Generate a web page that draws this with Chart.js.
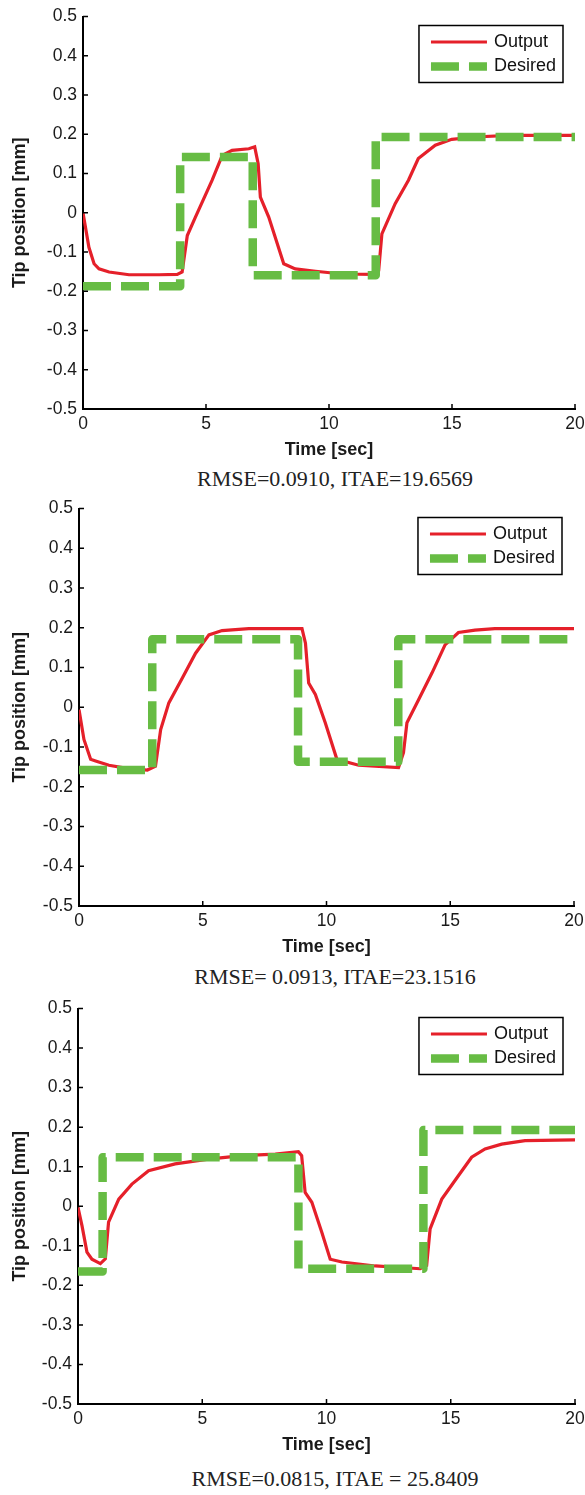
<!DOCTYPE html>
<html>
<head>
<meta charset="utf-8">
<script src="https://cdn.jsdelivr.net/npm/chart.js@4.4.1/dist/chart.umd.min.js"></script>
<style>
  html, body { margin: 0; padding: 0; background: #fff; overflow: hidden; }
  #pagina { position: relative; width: 585px; height: 1495px; overflow: hidden; }
  canvas { position: absolute; left: 0; }
  .pie {
    position: absolute;
    left: 335px;
    transform: translateX(-50%);
    white-space: nowrap;
    font-family: "Liberation Serif", "Times New Roman", serif;
    font-size: 22px;
    line-height: 26px;
    color: #222;
  }
</style>
</head>
<body>
<div id="pagina">
  <canvas id="panel1"></canvas>
  <canvas id="panel2"></canvas>
  <canvas id="panel3"></canvas>
</div>
<script>
// ejes comunes
const xTickValues = [0, 5, 10, 15, 20];
const yTickValues = [-0.5, -0.4, -0.3, -0.2, -0.1, 0, 0.1, 0.2, 0.3, 0.4, 0.5];
const seriesNames = ['Output', 'Desired'];
const captions = ['RMSE=0.0910, ITAE=19.6569', 'RMSE= 0.0913, ITAE=23.1516', 'RMSE=0.0815, ITAE = 25.8409'];

// caso 1
const outputTime1 = [0, 0.24, 0.45, 0.65, 1.06, 1.87, 3.09, 3.83, 4.03, 4.24, 4.57, 5.25, 5.66, 6.06, 6.74, 6.98, 7.12, 7.21, 7.55, 8.16, 8.63, 9.45, 10.53, 11.81, 12.02, 12.15, 12.69, 13.23, 13.63, 14.32, 14.99, 15.94, 17.3, 20];
const outputPos1 = [0, -0.088, -0.13, -0.143, -0.151, -0.158, -0.158, -0.157, -0.151, -0.058, -0.011, 0.083, 0.146, 0.159, 0.163, 0.168, 0.125, 0.04, -0.011, -0.13, -0.143, -0.149, -0.156, -0.157, -0.147, -0.054, 0.023, 0.083, 0.138, 0.172, 0.187, 0.193, 0.197, 0.197];
const desiredTime1 = [0, 3.95, 6.9, 11.9, 20];
const desiredPos1 = [-0.187, 0.142, -0.159, 0.193, 0.193];

// caso 2
const outputTime2 = [0, 0.2, 0.47, 0.67, 1.21, 1.88, 2.76, 3.09, 3.3, 3.63, 4.17, 4.71, 5.25, 5.78, 6.86, 9.01, 9.15, 9.28, 9.55, 9.95, 10.42, 11.3, 12.91, 13.11, 13.25, 13.72, 14.26, 14.79, 15.33, 16.0, 16.8, 20];
const outputPos2 = [-0.006, -0.081, -0.131, -0.135, -0.146, -0.153, -0.158, -0.148, -0.056, 0.011, 0.073, 0.136, 0.182, 0.193, 0.198, 0.198, 0.161, 0.061, 0.032, -0.039, -0.131, -0.146, -0.152, -0.114, -0.039, 0.019, 0.086, 0.157, 0.188, 0.194, 0.198, 0.198];
const desiredTime2 = [0, 2.96, 8.85, 12.9, 20];
const desiredPos2 = [-0.158, 0.171, -0.137, 0.171, 0.171];

// caso 3
const outputTime3 = [0, 0.16, 0.36, 0.56, 0.9, 1.1, 1.23, 1.64, 2.17, 2.84, 3.91, 5.25, 6.6, 7.94, 8.87, 9.0, 9.14, 9.41, 9.81, 10.15, 10.62, 11.96, 13.77, 14.03, 14.17, 14.64, 15.17, 15.84, 16.38, 17.05, 17.99, 20];
const outputPos3 = [-0.003, -0.049, -0.116, -0.134, -0.145, -0.133, -0.04, 0.018, 0.056, 0.09, 0.107, 0.119, 0.128, 0.132, 0.138, 0.128, 0.035, 0.01, -0.066, -0.134, -0.141, -0.151, -0.158, -0.15, -0.057, 0.018, 0.065, 0.124, 0.145, 0.157, 0.166, 0.168];
const desiredTime3 = [0, 0.99, 8.87, 13.9, 20];
const desiredPos3 = [-0.165, 0.124, -0.158, 0.193, 0.193];

const fuente = '"Liberation Sans", Arial, sans-serif';
Chart.defaults.font.family = fuente;
Chart.defaults.color = '#1a1a1a';

const rojo = '#e5202a';
const verde = '#67bc44';

// posicion de cada grafica en la pagina
const paneles = [
  { id: 'panel1', top: 15, bottom: 409, left: 83, right: 575, titulo: 450, pie: 479,
    t: outputTime1, y: outputPos1, td: desiredTime1, yd: desiredPos1 },
  { id: 'panel2', top: 507, bottom: 906, left: 79, right: 574, titulo: 947, pie: 977,
    t: outputTime2, y: outputPos2, td: desiredTime2, yd: desiredPos2 },
  { id: 'panel3', top: 1007, bottom: 1404, left: 78, right: 575, titulo: 1445, pie: 1479,
    t: outputTime3, y: outputPos3, td: desiredTime3, yd: desiredPos3 },
];

const ANCHO = 610;

// marcas de los ejes hacia dentro, como en MATLAB
const marcasInternas = {
  id: 'marcasInternas',
  afterDatasetsDraw(chart) {
    const { ctx, chartArea, scales } = chart;
    ctx.save();
    ctx.strokeStyle = '#000';
    ctx.lineWidth = 1.5;
    ctx.beginPath();
    scales.y.ticks.forEach(tk => {
      const py = scales.y.getPixelForValue(tk.value);
      ctx.moveTo(chartArea.left, py);
      ctx.lineTo(chartArea.left + 5, py);
    });
    scales.x.ticks.forEach(tk => {
      const px = scales.x.getPixelForValue(tk.value);
      ctx.moveTo(px, chartArea.bottom);
      ctx.lineTo(px, chartArea.bottom - 5);
    });
    ctx.stroke();
    ctx.restore();
  }
};

// leyenda con recuadro en la esquina superior derecha
const leyendaCaja = {
  id: 'leyendaCaja',
  afterDraw(chart) {
    const { ctx, chartArea } = chart;
    const sets = chart.data.datasets;
    ctx.save();
    ctx.font = '18px ' + fuente;
    const anchoTexto = Math.max(...sets.map(d => ctx.measureText(d.label).width));
    const w = 75 + anchoTexto + 7;
    const h = 57;
    const x = chartArea.right - 12 - w;
    const y = chartArea.top + 9;
    ctx.fillStyle = '#fff';
    ctx.fillRect(x, y, w, h);
    ctx.lineWidth = 1.5;
    ctx.strokeStyle = '#000';
    ctx.strokeRect(x, y, w, h);
    sets.forEach((d, i) => {
      const cy = y + 16.5 + i * 24.5;
      ctx.beginPath();
      ctx.setLineDash(d.borderDash || []);
      ctx.lineWidth = d.borderWidth;
      ctx.strokeStyle = d.borderColor;
      ctx.moveTo(x + 12, cy);
      ctx.lineTo(x + 68, cy);
      ctx.stroke();
      ctx.setLineDash([]);
      ctx.fillStyle = '#111';
      ctx.textBaseline = 'middle';
      ctx.fillText(d.label, x + 75, cy);
    });
    ctx.restore();
  }
};

function puntos(ts, ys) {
  return ts.map((t, i) => ({ x: t, y: ys[i] }));
}

function crearPanel(p, n) {
  const canvas = document.getElementById(p.id);
  const arriba = p.top - 15;
  const alto = Math.round(p.titulo + 11 - arriba);
  canvas.width = ANCHO;
  canvas.height = alto;
  canvas.style.top = arriba + 'px';
  canvas.style.width = ANCHO + 'px';
  canvas.style.height = alto + 'px';
  const altoEjeX = alto - (p.bottom - arriba);

  new Chart(canvas, {
    type: 'line',
    data: {
      datasets: [{
        label: seriesNames[0],
        data: puntos(p.t, p.y),
        borderColor: rojo,
        borderWidth: 3.2,
        pointRadius: 0,
        tension: 0,
        order: 2,
      }, {
        label: seriesNames[1],
        data: puntos(p.td, p.yd),
        borderColor: verde,
        borderWidth: 8.5,
        borderDash: [28, 10],
        borderJoinStyle: 'round',
        stepped: 'before',
        pointRadius: 0,
        order: 1,
      }],
    },
    plugins: [marcasInternas, leyendaCaja],
    options: {
      responsive: false,
      animation: false,
      devicePixelRatio: 1,
      layout: { padding: { top: 15, right: ANCHO - p.right, bottom: 0, left: 0 } },
      plugins: { legend: { display: false }, tooltip: { enabled: false } },
      scales: {
        x: {
          type: 'linear',
          min: 0,
          max: 20,
          afterBuildTicks: s => { s.ticks = xTickValues.map(v => ({ value: v })); },
          afterFit: s => { s.height = altoEjeX; },
          grid: { drawOnChartArea: false, drawTicks: false },
          border: { color: '#000', width: 2 },
          ticks: { font: { size: 17.5 }, padding: 5, maxRotation: 0 },
          title: { display: true, text: 'Time [sec]', font: { size: 18, weight: 'bold' }, padding: 0 },
        },
        y: {
          min: -0.5,
          max: 0.5,
          afterBuildTicks: s => { s.ticks = yTickValues.map(v => ({ value: v })); },
          afterFit: s => { s.width = p.left; },
          grid: { drawOnChartArea: false, drawTicks: false },
          border: { color: '#000', width: 2 },
          ticks: {
            font: { size: 17.5 },
            padding: 6,
            callback: v => String(Math.round(v * 10) / 10),
          },
          title: { display: true, text: 'Tip position [mm]', font: { size: 18, weight: 'bold' }, padding: { top: 9, bottom: 0 } },
        },
      },
    },
  });

  const pie = document.createElement('div');
  pie.className = 'pie';
  pie.style.top = (p.pie - 13) + 'px';
  pie.textContent = captions[n];
  document.getElementById('pagina').appendChild(pie);
}

paneles.forEach(crearPanel);
</script>
</body>
</html>
